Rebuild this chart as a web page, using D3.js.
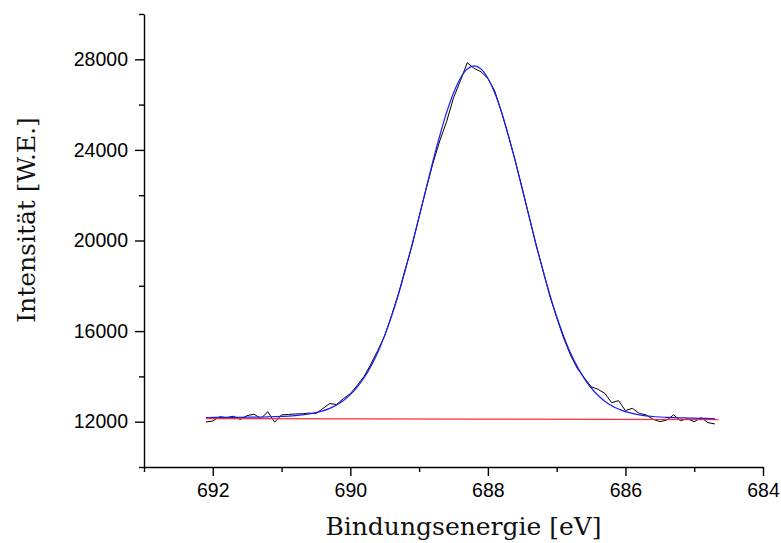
<!DOCTYPE html>
<html><head><meta charset="utf-8">
<script src="https://cdn.jsdelivr.net/npm/d3@7"></script>
<style>body{margin:0;background:#fff}</style>
</head><body><svg id="c" width="781" height="543"></svg>
<script>
const energies = [692.1,692.0,691.9,691.8,691.7,691.6,691.5,691.4,691.3,691.2,691.1,691.0,
  690.9,690.8,690.7,690.6,690.5,690.4,690.3,690.2,690.1,690.0,
  689.9,689.8,689.7,689.6,689.5,689.4,689.3,689.2,689.1,689.0,
  688.9,688.8,688.7,688.6,688.5,688.4,688.3,688.2,688.1,688.0,
  687.9,687.8,687.7,687.6,687.5,687.4,687.3,687.2,687.1,687.0,
  686.9,686.8,686.7,686.6,686.5,686.4,686.3,686.2,686.1,686.0,
  685.9,685.8,685.7,685.6,685.5,685.4,685.3,685.2,685.1,685.0,
  684.9,684.8,684.7];
const measured = [11990,12030,12220,12180,12240,12100,12270,12330,12140,12440,11980,12300,
  12320,12340,12350,12380,12360,12580,12800,12760,13020,13240,
  13600,14000,14550,15150,15800,16700,17650,18750,19800,21050,
  22250,23400,24400,25250,26300,27050,27850,27600,27450,27150,
  26600,25650,24600,23500,22300,21050,19800,18700,17550,16600,
  15700,14950,14350,13950,13550,13430,13250,12840,12930,12490,
  12590,12370,12300,12110,12000,12075,12300,12045,12130,12000,
  12180,11960,11900];
const fitted = [12185,12187,12189,12191,12193,12195,12198,12202,12207,12214,12223,12232,
  12248,12269,12298,12340,12399,12478,12590,12736,12935,13193,
  13525,13939,14453,15069,15810,16660,17626,18701,19848,21056,
  22272,23487,24626,25655,26512,27166,27573,27711,27571,27163,
  26508,25649,24618,23478,22262,21044,19834,18686,17610,16642,
  15790,15048,14431,13915,13499,13166,12907,12706,12558,12445,
  12365,12304,12260,12230,12208,12190,12179,12170,12161,12154,
  12148,12144,12140];
const bgEnergies = [692.1, 688.2, 684.65];
const bgValues = [12140, 12115, 12090];
const xMajorTicks = [692, 690, 688, 686, 684];
const xMinorTicks = [693, 691, 689, 687, 685];
const yMajorTicks = [12000, 16000, 20000, 24000, 28000];
const yMinorTicks = [10000, 14000, 18000, 22000, 26000, 30000];

const svg = d3.select("#c");
const x = d3.scaleLinear().domain([693, 684]).range([144, 763]);
const y = d3.scaleLinear().domain([10000, 30000]).range([467, 14]);

const tickFont = "'Liberation Sans', Arial, Helvetica, sans-serif";

// minor ticks
const xMinor = svg.append("g").attr("transform", "translate(0,467)")
  .call(d3.axisBottom(x).tickValues(xMinorTicks).tickSize(5).tickSizeOuter(0).tickFormat(""));
xMinor.select(".domain").remove();
const yMinor = svg.append("g").attr("transform", "translate(144,0)")
  .call(d3.axisLeft(y).tickValues(yMinorTicks).tickSize(5).tickSizeOuter(0).tickFormat(""));
yMinor.select(".domain").remove();

// major axes
const xAxis = svg.append("g").attr("transform", "translate(0,467)")
  .call(d3.axisBottom(x).tickValues(xMajorTicks).tickSize(9).tickSizeOuter(0).tickPadding(7).tickFormat(d3.format("d")));
const yAxis = svg.append("g").attr("transform", "translate(144,0)")
  .call(d3.axisLeft(y).tickValues(yMajorTicks).tickSize(9).tickSizeOuter(0).tickPadding(7).tickFormat(d3.format("d")));

svg.selectAll(".domain, .tick line").attr("stroke", "#000").attr("stroke-width", 1.4);
svg.selectAll(".tick text").attr("font-family", tickFont).attr("font-size", 19.5).attr("fill", "#000");

// series
const pts = (xs, ys) => xs.map((e, i) => [e, ys[i]]);
const line = d3.line().x(d => x(d[0])).y(d => y(d[1]));

svg.append("path").datum(pts(energies, measured)).attr("d", line)
  .attr("fill", "none").attr("stroke", "#000").attr("stroke-width", 1);
svg.append("path").datum(pts(bgEnergies, bgValues)).attr("d", line)
  .attr("fill", "none").attr("stroke", "#ff3030").attr("stroke-width", 1.2);
svg.append("path").datum(pts(energies, fitted)).attr("d", d3.line().curve(d3.curveCatmullRom).x(d => x(d[0])).y(d => y(d[1])))
  .attr("fill", "none").attr("stroke", "#1a1aff").attr("stroke-width", 1.2);

// titles
const serif = "'DejaVu Serif', 'Liberation Serif', serif";
svg.append("text").attr("x", 463.5).attr("y", 535).attr("text-anchor", "middle")
  .attr("font-family", serif).attr("font-size", 25).attr("fill", "#111")
  .text("Bindungsenergie [eV]");
svg.append("text").attr("transform", "translate(35,220) rotate(-90)").attr("text-anchor", "middle")
  .attr("font-family", serif).attr("font-size", 25).attr("fill", "#111")
  .text("Intensität [W.E.]");
</script>
</body></html>
